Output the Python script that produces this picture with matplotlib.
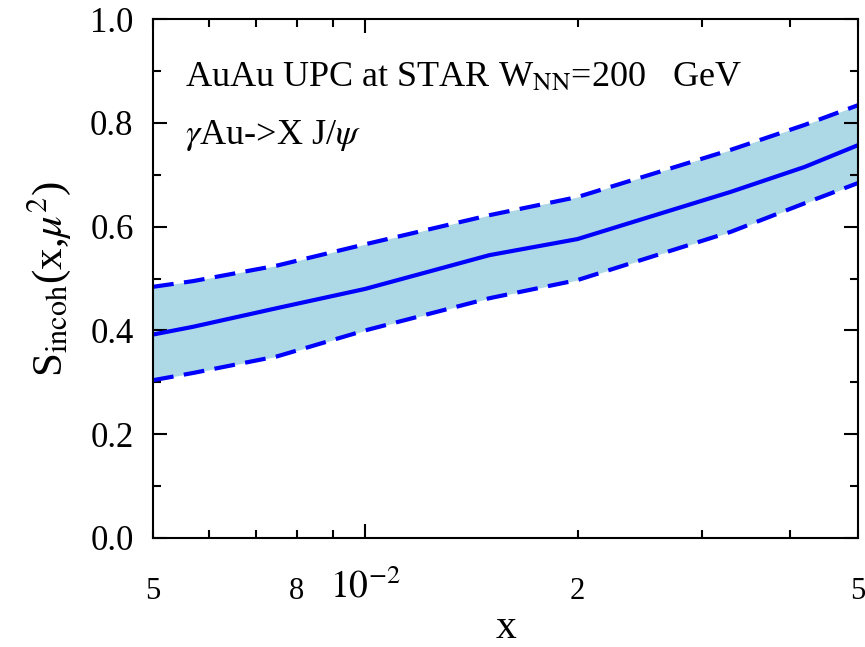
import matplotlib
matplotlib.use('Agg')
import matplotlib.pyplot as plt
from matplotlib.ticker import FixedLocator, FixedFormatter

x_vals = [0.005, 0.0057, 0.0075, 0.01, 0.015, 0.02, 0.033, 0.042, 0.05]
s_central = [0.392, 0.407, 0.443, 0.480, 0.545, 0.576, 0.667, 0.715, 0.757]
s_upper = [0.484, 0.495, 0.525, 0.566, 0.622, 0.657, 0.748, 0.796, 0.834]
s_lower = [0.304, 0.318, 0.350, 0.400, 0.462, 0.497, 0.590, 0.645, 0.684]

minor_pos = [0.005, 0.006, 0.007, 0.008, 0.009, 0.02, 0.03, 0.04, 0.05]
minor_lab = ['5', '', '', '8', '', '2', '', '', '5']

plt.rcParams['font.family'] = ['Liberation Serif', 'DejaVu Serif']
plt.rcParams['mathtext.fontset'] = 'stix'

fig = plt.figure(figsize=(8.65, 6.47), dpi=100)
ax = fig.add_axes([0.1769, 0.1685, 0.8151, 0.8021])

ax.fill_between(x_vals, s_lower, s_upper, color='lightblue', lw=0)
ax.plot(x_vals, s_central, color='blue', lw=3)
ax.plot(x_vals, s_upper, color='blue', lw=3, dashes=(5, 2.5))
ax.plot(x_vals, s_lower, color='blue', lw=3, dashes=(5, 2.5))

ax.set_xscale('log')
ax.set_xlim(0.005, 0.05)
ax.set_ylim(0, 1)

ax.xaxis.set_major_locator(FixedLocator([0.01]))
ax.xaxis.set_major_formatter(FixedFormatter([r'$10^{-2}$']))
ax.xaxis.set_minor_locator(FixedLocator(minor_pos))
ax.xaxis.set_minor_formatter(FixedFormatter(minor_lab))

ax.set_yticks([0.0, 0.2, 0.4, 0.6, 0.8, 1.0])
ax.set_yticks([0.1, 0.3, 0.5, 0.7, 0.9], minor=True)
ax.set_yticklabels(['0.0', '0.2', '0.4', '0.6', '0.8', '1.0'])

ax.tick_params(which='both', direction='in', top=True, right=True, width=1.5)
ax.tick_params(which='major', length=10)
ax.tick_params(which='minor', length=6)
ax.tick_params(axis='y', which='major', labelsize=25, pad=14)
ax.tick_params(axis='x', which='major', labelsize=27, pad=22)
ax.tick_params(axis='x', which='minor', labelsize=22, pad=28)
for sp in ax.spines.values():
    sp.set_linewidth(1.5)

ax.set_xlabel('x', fontsize=30, labelpad=2)
ax.set_ylabel(r'S$_{\rm incoh}$(x,$\mu^2$)', fontsize=31, labelpad=12)

ax.text(0.045, 0.871, r'AuAu UPC at STAR W$_{\rm NN}$=200   GeV', transform=ax.transAxes,
        fontsize=26, va='baseline')
ax.text(0.045, 0.759, r'$\gamma$Au->X J/$\psi$', transform=ax.transAxes,
        fontsize=26, va='baseline')

plt.savefig('out.png', dpi=100)
